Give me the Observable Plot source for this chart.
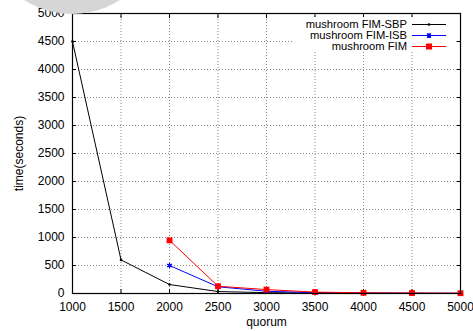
<!DOCTYPE html>
<html><head><meta charset="utf-8">
<script src="https://cdn.jsdelivr.net/npm/d3@7"></script>
<script src="https://cdn.jsdelivr.net/npm/@observablehq/plot@0.6"></script>
<style>
body{margin:0;background:#fff;}
#wrap{position:relative;width:473px;height:331px;overflow:hidden;font-family:"Liberation Sans",Arial,sans-serif;}
#blob{position:absolute;left:-17px;top:-164px;width:178px;height:178px;border-radius:50%;background:#d6d6d6;}
#legend{position:absolute;left:293px;top:17px;width:163px;height:35px;background:#fff;font-size:11.2px;}
.row{position:absolute;left:0;width:163px;height:11px;}
.row span{position:absolute;right:49px;top:0px;white-space:nowrap;line-height:11px;}
.row svg{position:absolute;left:119px;top:0;}
</style></head><body><div id="wrap"><div id="chart"></div><div id="legend"></div><div id="blob"></div></div>
<script>
const quorum = [1000, 1500, 2000, 2500, 3000, 3500, 4000, 4500, 5000];
const sbpTime = [4500, 600, 160, 35, 15, 8, 5, 3, 2];
const isbQuorum = [2000, 2500, 3000, 3500, 4000, 4500, 5000];
const isbTime = [500, 120, 40, 15, 8, 5, 3];
const fimQuorum = [2000, 2500, 3000, 3500, 4000, 4500, 5000];
const fimTime = [950, 130, 70, 25, 12, 8, 5];
const seriesNames = ["mushroom FIM-SBP", "mushroom FIM-ISB", "mushroom FIM"];
const seriesColors = ["#000000", "#0000ff", "#ff0000"];
const xTicks = [1000, 1500, 2000, 2500, 3000, 3500, 4000, 4500, 5000];
const yTicks = [0, 500, 1000, 1500, 2000, 2500, 3000, 3500, 4000, 4500, 5000];

const sbp = quorum.map((q, i) => ({q, t: sbpTime[i]}));
const isb = isbQuorum.map((q, i) => ({q, t: isbTime[i]}));
const fim = fimQuorum.map((q, i) => ({q, t: fimTime[i]}));

const grid = {stroke: "#888", strokeOpacity: 1, strokeDasharray: "1,2", strokeWidth: 1};
const blank = () => "";
const fmt = d3.format("d");

const chart = Plot.plot({
  width: 473, height: 331,
  marginLeft: 72, marginRight: 13, marginTop: 13, marginBottom: 38,
  style: {fontFamily: "'Liberation Sans', Arial, sans-serif", fontSize: "12px", color: "#000", background: "#fff"},
  x: {domain: [1000, 5000]},
  y: {domain: [0, 5000]},
  marks: [
    Plot.gridX(xTicks, grid),
    Plot.gridY(yTicks, grid),
    Plot.axisX({ticks: xTicks, tickSize: 0, tickPadding: 9, tickFormat: fmt, label: "quorum", labelAnchor: "center", labelArrow: "none", labelOffset: 32, fill: "#000"}),
    Plot.axisY({ticks: yTicks, tickSize: 0, tickPadding: 8, tickFormat: fmt, label: "time(seconds)", labelAnchor: "center", labelArrow: "none", labelOffset: 58, fill: "#000"}),
    Plot.axisX({ticks: xTicks, anchor: "bottom", tickSize: 4, dy: -4, tickFormat: blank, label: null, stroke: "#000"}),
    Plot.axisX({ticks: xTicks, anchor: "top", tickSize: 4, dy: 4, tickFormat: blank, label: null, stroke: "#000"}),
    Plot.axisY({ticks: yTicks, anchor: "left", tickSize: 4, dx: 4, tickFormat: blank, label: null, stroke: "#000"}),
    Plot.axisY({ticks: yTicks, anchor: "right", tickSize: 4, dx: -4, tickFormat: blank, label: null, stroke: "#000"}),
    Plot.line(sbp, {x: "q", y: "t", stroke: seriesColors[0], strokeWidth: 1}),
    Plot.line(isb, {x: "q", y: "t", stroke: seriesColors[1], strokeWidth: 1}),
    Plot.line(fim, {x: "q", y: "t", stroke: seriesColors[2], strokeWidth: 1}),
    Plot.dot(sbp, {x: "q", y: "t", r: 1.3, fill: seriesColors[0]}),
    Plot.dot(isb, {x: "q", y: "t", symbol: "asterisk", r: 2.6, stroke: seriesColors[1], strokeWidth: 1.2}),
    Plot.dot(fim, {x: "q", y: "t", symbol: "square", r: 3.3, fill: seriesColors[2]}),
    Plot.frame({stroke: "#000", strokeWidth: 1.2})
  ]
});
document.getElementById("chart").appendChild(chart);

const legend = document.getElementById("legend");
const markers = [
  '<circle cx="17" cy="5.5" r="1.3" fill="#000"/>',
  '<path d="M15,3.5L19,7.5M19,3.5L15,7.5M17,3V8M14.5,5.5H19.5" stroke="#0000ff" stroke-width="1.2"/>',
  '<rect x="14" y="2.5" width="6" height="6" fill="#ff0000"/>'
];
const rowTops = [2, 13, 24];
seriesNames.forEach((name, i) => {
  const row = document.createElement("div");
  row.className = "row";
  row.style.top = rowTops[i] + "px";
  row.innerHTML = '<span>' + name + '</span><svg width="34" height="11"><line x1="0" x2="34" y1="5.5" y2="5.5" stroke="' + seriesColors[i] + '" stroke-width="1"/>' + markers[i] + '</svg>';
  legend.appendChild(row);
});
</script>
</body></html>
